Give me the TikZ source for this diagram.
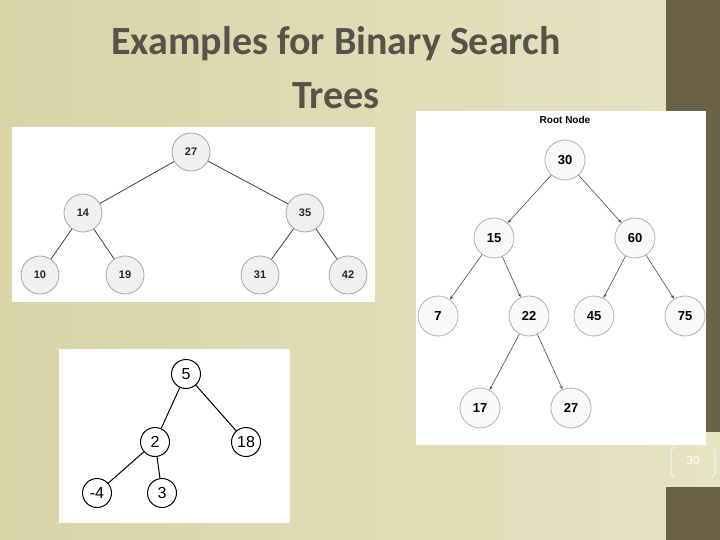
\documentclass[tikz,border=0pt]{standalone}
\usepackage{fontspec}
\setmainfont{Carlito}
\newfontfamily\arialf{Liberation Sans}
\usetikzlibrary{arrows.meta}
\definecolor{bgA}{HTML}{D8D4A6}
\definecolor{bgB}{HTML}{E6E3C4}
\definecolor{band}{HTML}{6B6048}
\definecolor{titlec}{HTML}{57534A}
\tikzset{
 grayn/.style={circle,draw=gray!70,fill=gray!12,line width=0.8pt,minimum size=38pt,inner sep=0pt,font=\arialf\bfseries\fontsize{11}{12}\selectfont,text=black!85},
 whn/.style={circle,draw=gray!60,fill=gray!5,line width=0.8pt,minimum size=40pt,inner sep=0pt,font=\arialf\bfseries\fontsize{13}{14}\selectfont},
 smn/.style={circle,draw=black,fill=white,line width=1pt,minimum size=29pt,inner sep=0pt,font=\arialf\fontsize{16}{17}\selectfont},
 edge/.style={draw=black!75,line width=0.8pt},
 arr/.style={draw=black!70,line width=0.6pt,-{Stealth[length=4pt,width=3pt]}},
}
\begin{document}
\begin{tikzpicture}[x=1pt,y=-1pt]
\useasboundingbox (0,0) rectangle (720,540);
\shade[left color=bgA,right color=bgB] (0,0) rectangle (720,540);
\fill[band] (666,0) rectangle (720,432);
\fill[band] (666,487) rectangle (720,540);
\node[font=\bfseries\fontsize{40}{54}\selectfont,text=titlec,align=center] (title) at (336,68) {Examples for Binary Search\\Trees};
% panel 1
\fill[white] (12,127) rectangle (375,302);
\node[grayn] (a27) at (191,152) {27};
\node[grayn] (a14) at (83,213) {14};
\node[grayn] (a35) at (305,213) {35};
\node[grayn] (a10) at (40,275) {10};
\node[grayn] (a19) at (125,275) {19};
\node[grayn] (a31) at (260,275) {31};
\node[grayn] (a42) at (348,275) {42};
\draw[edge] (a27)--(a14); \draw[edge] (a27)--(a35);
\draw[edge] (a14)--(a10); \draw[edge] (a14)--(a19);
\draw[edge] (a35)--(a31); \draw[edge] (a35)--(a42);
% panel 2
\fill[white] (416,111) rectangle (706,445);
\node[font=\arialf\bfseries\fontsize{10}{11}\selectfont] (rn) at (565,120) {Root Node};
\node[whn] (b30) at (565,160) {30};
\node[whn] (b15) at (494,238) {15};
\node[whn] (b60) at (635,238) {60};
\node[whn] (b7) at (438,316) {7};
\node[whn] (b22) at (529,316) {22};
\node[whn] (b45) at (594,316) {45};
\node[whn] (b75) at (685,316) {75};
\node[whn] (b17) at (480,408) {17};
\node[whn] (b27) at (571,408) {27};
\draw[arr] (b30)--(b15); \draw[arr] (b30)--(b60);
\draw[arr] (b15)--(b7); \draw[arr] (b15)--(b22);
\draw[arr] (b60)--(b45); \draw[arr] (b60)--(b75);
\draw[arr] (b22)--(b17); \draw[arr] (b22)--(b27);
% panel 3
\fill[white] (59,349) rectangle (290,523);
\node[smn] (c5) at (186,374) {5};
\node[smn] (c2) at (155,442) {2};
\node[smn] (c18) at (246,442) {18};
\node[smn] (cm4) at (97,493) {-4};
\node[smn] (c3) at (162,493) {3};
\draw[line width=1pt] (c5)--(c2); \draw[line width=1pt] (c5)--(c18);
\draw[line width=1pt] (c2)--(cm4); \draw[line width=1pt] (c2)--(c3);
% page number
\node[font=\fontsize{13}{14}\selectfont,text=white] (pg) at (693,460) {30};
\draw[white!90!gray,line width=1.2pt] (674,447) -- (671,450) -- (671,474) -- (674,477);
\draw[white!90!gray,line width=1.2pt] (712,447) -- (715,450) -- (715,474) -- (712,477);
\end{tikzpicture}
\end{document}
